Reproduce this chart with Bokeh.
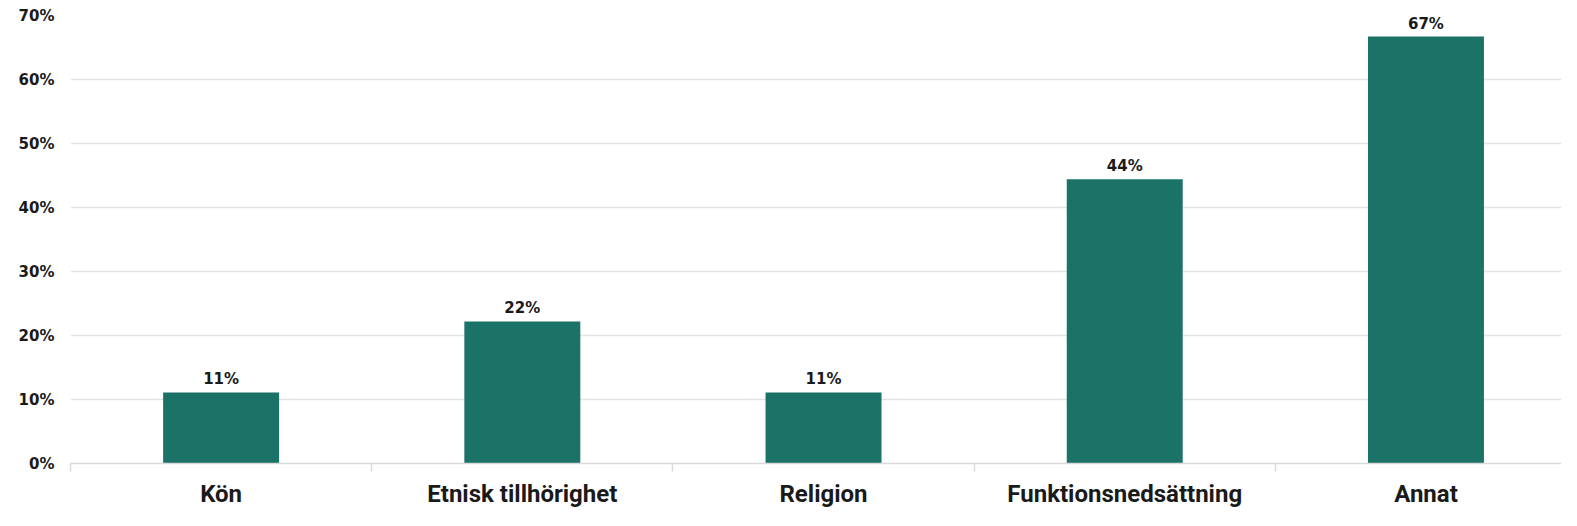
from bokeh.plotting import figure
from bokeh.models import ColumnDataSource, Range1d, FixedTicker, NumeralTickFormatter, LabelSet
from bokeh.core.properties import value
from bokeh.embed import file_html
from bokeh.resources import INLINE

categories = ["Kön", "Etnisk tillhörighet", "Religion", "Funktionsnedsättning", "Annat"]
values = [0.111, 0.222, 0.111, 0.444, 0.667]
y_ticks = [0.0, 0.1, 0.2, 0.3, 0.4, 0.5, 0.6, 0.7]

xs = [i + 0.5 for i in range(len(categories))]
labels = [f"{round(v * 100)}%" for v in values]
src = ColumnDataSource(dict(x=xs, top=values, lab=labels))

p = figure(width=1561, height=510, output_backend="svg", toolbar_location=None,
           x_range=Range1d(0, 4.95), y_range=Range1d(0, 0.7),
           min_border_left=70, min_border_right=0, min_border_top=15, min_border_bottom=10)
p.outline_line_color = None
p.background_fill_color = "white"

p.vbar(x="x", top="top", width=0.385, bottom=0, source=src, color="#1B7367", line_color=None)

p.add_layout(LabelSet(x="x", y="top", text="lab", source=src, text_align="center",
                      text_baseline="alphabetic", y_offset=8, text_font=value("DejaVu Sans"),
                      text_font_style="bold", text_font_size="15px", text_color="#1a1a1a"))

# x axis
p.xaxis.ticker = FixedTicker(ticks=xs, minor_ticks=list(range(len(categories))))
p.xaxis.major_label_overrides = {x: c for x, c in zip(xs, categories)}
p.xaxis.major_tick_line_color = None
p.xaxis.major_tick_out = 0
p.xaxis.major_tick_in = 0
p.xaxis.minor_tick_line_color = "#d9d9d9"
p.xaxis.minor_tick_line_width = 1.5
p.xaxis.minor_tick_out = 8
p.xaxis.minor_tick_in = 0
p.xaxis.axis_line_color = "#d9d9d9"
p.xaxis.axis_line_width = 1.5
p.xaxis.major_label_text_font = "Roboto"
p.xaxis.major_label_text_font_style = "bold"
p.xaxis.major_label_text_font_size = "24px"
p.xaxis.major_label_text_color = "#1a1a1a"
p.xaxis.major_label_standoff = 8
p.xgrid.grid_line_color = None

# y axis
p.yaxis.ticker = FixedTicker(ticks=y_ticks)
p.yaxis.formatter = NumeralTickFormatter(format="0%")
p.yaxis.axis_line_color = None
p.yaxis.major_tick_line_color = None
p.yaxis.major_tick_out = 0
p.yaxis.minor_tick_line_color = None
p.yaxis.major_label_text_font = "DejaVu Sans"
p.yaxis.major_label_text_font_style = "bold"
p.yaxis.major_label_text_font_size = "15px"
p.yaxis.major_label_text_color = "#1a1a1a"
p.yaxis.major_label_standoff = 16
p.ygrid.grid_line_color = "#e3e3e3"
p.ygrid.grid_line_width = 1.5

open("out.html", "w").write(file_html(p, INLINE))
